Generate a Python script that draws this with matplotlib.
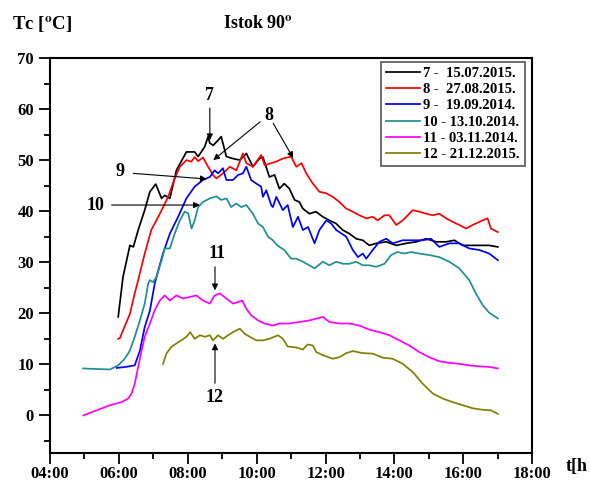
import matplotlib
matplotlib.use("Agg")
import matplotlib.pyplot as plt
from matplotlib.ticker import MultipleLocator, FuncFormatter

plt.rcParams["font.family"] = ["Liberation Serif", "DejaVu Serif"]
plt.rcParams["font.weight"] = "bold"
plt.rcParams["mathtext.fontset"] = "stix"

# time in hours, temperature in degC
t7 = [5.98, 6.12, 6.32, 6.42, 6.56, 6.75, 6.9, 7.07, 7.24, 7.33, 7.48, 7.67, 7.96, 8.2, 8.3,
      8.49, 8.59, 8.64, 8.74, 8.88, 8.97, 9.12, 9.31, 9.51, 9.7, 9.89, 10.08, 10.18, 10.37, 10.52,
      10.66, 10.8, 10.95, 11.1, 11.24, 11.34, 11.53, 11.72, 11.92, 12.11, 12.3, 12.5, 12.69, 12.89,
      13.08, 13.27, 13.47, 13.76, 14.05, 14.34, 14.63, 14.92, 15.21, 15.5, 15.74, 15.98, 16.27,
      16.56, 16.75, 17.0]
T7 = [19.3, 27.1, 33.3, 33.0, 36.3, 40.2, 43.8, 45.3, 42.5, 43.1, 42.5, 48.0, 51.6, 51.6, 50.7,
      52.6, 54.6, 53.3, 52.9, 53.9, 54.6, 50.7, 50.3, 50.0, 51.3, 48.7, 50.3, 50.6, 46.7, 47.1,
      44.4, 45.4, 44.4, 42.2, 41.8, 40.5, 39.5, 39.9, 38.9, 38.2, 37.6, 36.3, 35.6, 34.6,
      34.3, 33.3, 33.7, 34.0, 33.3, 33.7, 34.0, 34.6, 34.0, 34.0, 34.3, 33.3, 33.3,
      33.3, 33.3, 33.0]

t8 = [5.98, 6.04, 6.08, 6.32, 6.46, 6.56, 6.75, 6.94, 7.19, 7.43, 7.62, 7.77, 7.96, 8.1, 8.2,
      8.3, 8.44, 8.59, 8.73, 8.83, 9.02, 9.22, 9.41, 9.6, 9.7, 9.89, 10.13, 10.23, 10.42, 10.56,
      10.66, 10.76, 11.0, 11.15, 11.3, 11.44, 11.63, 11.82, 12.02, 12.21, 12.4, 12.6, 12.79, 12.98,
      13.18, 13.37, 13.51, 13.71, 13.85, 14.05, 14.24, 14.53, 14.72, 14.92, 15.11, 15.3, 15.5,
      15.69, 15.88, 16.08, 16.27, 16.46, 16.7, 16.8, 17.0]
T8 = [15.0, 15.2, 16.0, 19.9, 23.9, 26.5, 31.7, 36.3, 39.5, 42.8, 46.4, 48.7, 50.0, 49.7, 50.6,
      49.8, 50.5, 48.7, 47.1, 46.4, 47.4, 48.7, 48.0, 51.3, 49.4, 48.7, 51.0, 49.0, 49.4, 49.7,
      50.0, 50.3, 50.7, 48.7, 49.4, 47.4, 45.4, 43.8, 43.5, 42.8, 41.8, 40.5, 39.9, 39.2,
      38.6, 38.9, 38.2, 39.2, 39.2, 37.3, 38.2, 40.2, 39.9, 39.5, 39.2, 39.5, 38.6,
      37.9, 37.3, 36.6, 37.3, 37.9, 38.6, 36.6, 35.9]

t9 = [5.94, 6.2, 6.46, 6.61, 6.75, 6.9, 7.04, 7.09, 7.28, 7.48, 7.72, 7.96, 8.2, 8.44, 8.64,
      8.78, 8.88, 9.02, 9.12, 9.31, 9.46, 9.6, 9.7, 9.84, 9.99, 10.13, 10.18, 10.28, 10.42, 10.47,
      10.57, 10.76, 10.9, 11.05, 11.2, 11.34, 11.49, 11.68, 11.82, 12.02, 12.16, 12.31, 12.6, 12.79,
      12.94, 13.08, 13.18, 13.37, 13.56, 13.76, 13.95, 14.24, 14.53, 14.82, 15.06, 15.3, 15.59,
      15.88, 16.17, 16.46, 16.75, 17.0]
T9 = [9.3, 9.5, 9.8, 12.7, 17.3, 20.5, 25.8, 27.1, 31.7, 35.6, 38.9, 42.5, 44.8, 46.1, 46.7,
      48.0, 47.4, 48.4, 46.1, 46.1, 47.1, 47.4, 48.7, 46.1, 45.4, 44.8, 42.8, 44.1, 41.2, 40.8,
      42.8, 40.2, 41.2, 36.9, 38.9, 36.3, 36.9, 33.7, 36.3, 38.2, 37.6, 36.3, 35.0, 32.4,
      31.0, 31.7, 30.7, 32.4, 34.0, 34.6, 33.7, 34.3, 34.3, 34.3, 34.6, 33.0, 33.7,
      33.7, 32.7, 32.4, 31.7, 30.4]

t10 = [4.96, 5.3, 5.74, 5.98, 6.17, 6.32, 6.46, 6.61, 6.75, 6.85, 6.9, 6.99, 7.09, 7.24, 7.33,
       7.48, 7.62, 7.77, 7.91, 8.01, 8.11, 8.2, 8.3, 8.44, 8.64, 8.83, 8.97, 9.12, 9.26, 9.41,
       9.55, 9.7, 9.89, 10.04, 10.18, 10.33, 10.47, 10.6, 10.8, 11.0, 11.15, 11.34, 11.53, 11.68,
       11.92, 12.11, 12.31, 12.5, 12.69, 12.89, 13.08, 13.27, 13.47, 13.71, 13.9, 14.09, 14.29,
       14.48, 14.72, 15.01, 15.3, 15.59, 15.88, 16.17, 16.36, 16.56, 16.75, 17.0]
T10 = [9.2, 9.1, 9.0, 9.8, 11.1, 12.7, 15.4, 18.6, 21.9, 25.8, 26.5, 26.1, 27.1, 30.4, 32.7,
       32.7, 35.6, 38.2, 39.9, 39.6, 36.6, 38.2, 40.8, 41.8, 42.5, 42.9, 42.2, 42.5, 40.8, 41.5,
       40.8, 41.2, 39.5, 37.6, 36.9, 35.0, 34.3, 33.3, 32.4, 30.7, 30.7, 30.1, 29.4, 28.8,
       30.1, 29.4, 30.1, 29.7, 29.7, 30.1, 29.4, 29.4, 29.1, 29.7, 31.4, 32.0, 31.7,
       32.0, 31.7, 31.4, 31.0, 30.1, 28.8, 26.5, 23.9, 21.6, 20.1, 19.0]

t11 = [4.97, 5.35, 5.74, 6.07, 6.27, 6.37, 6.46, 6.56, 6.66, 6.75, 6.9, 7.04, 7.19, 7.33, 7.48,
       7.67, 7.86, 8.06, 8.25, 8.44, 8.64, 8.78, 8.93, 9.12, 9.31, 9.46, 9.58, 9.7, 9.84, 10.04,
       10.23, 10.47, 10.66, 10.95, 11.24, 11.53, 11.92, 12.11, 12.4, 12.69, 12.98, 13.27, 13.56,
       13.85, 14.14, 14.43, 14.72, 15.01, 15.3, 15.59, 15.88, 16.17, 16.46, 16.75, 17.0]
T11 = [0.0, 1.0, 2.0, 2.6, 3.3, 4.3, 6.2, 9.5, 12.7, 15.4, 18.0, 20.6, 22.5, 23.5, 22.5,
       23.5, 22.9, 23.2, 23.5, 22.5, 21.9, 23.5, 23.9, 22.9, 21.9, 22.2, 22.5, 20.9, 19.6, 18.6,
       18.0, 17.6, 18.0, 18.0, 18.3, 18.6, 19.3, 18.3, 18.0, 18.0, 17.6, 16.8, 16.3,
       15.7, 14.7, 13.7, 12.4, 11.4, 10.6, 10.3, 10.1, 9.8, 9.6, 9.5, 9.2]

t12 = [7.28, 7.38, 7.52, 7.67, 7.81, 7.96, 8.07, 8.2, 8.35, 8.5, 8.64, 8.73, 8.88, 9.02, 9.17,
       9.31, 9.51, 9.65, 9.8, 9.99, 10.18, 10.37, 10.62, 10.76, 10.9, 11.15, 11.34, 11.48, 11.63,
       11.73, 11.92, 12.21, 12.4, 12.6, 12.79, 13.08, 13.37, 13.66, 13.95, 14.24, 14.53, 14.82,
       15.11, 15.4, 15.69, 15.98, 16.27, 16.56, 16.8, 17.0]
T12 = [10.1, 12.1, 13.4, 14.1, 14.7, 15.4, 16.3, 15.0, 15.7, 15.4, 15.7, 14.7, 15.7, 15.0, 15.7,
       16.3, 17.0, 16.0, 15.4, 14.7, 14.7, 15.0, 15.7, 15.0, 13.5, 13.3, 12.9, 13.9, 13.7,
       12.4, 11.8, 11.1, 11.4, 12.2, 12.6, 12.2, 12.1, 11.3, 11.1, 10.1, 8.5, 6.2,
       4.3, 3.3, 2.6, 2.0, 1.4, 1.1, 1.0, 0.3]

labels = ["7 -  15.07.2015.", "8 -  27.08.2015.", "9 -  19.09.2014.",
          "10 - 13.10.2014.", "11 - 03.11.2014.", "12 - 21.12.2015."]
colors = ["black", "#ff0000", "#0000ff", "#1f8f8f", "#ff00ff", "#808000"]

fig = plt.figure(figsize=(5.9, 4.82), dpi=100)
ax = fig.add_axes([0.0847, 0.0608, 0.8175, 0.8189])

series = [(t7, T7), (t8, T8), (t9, T9), (t10, T10), (t11, T11), (t12, T12)]
for (tt, TT), c, lab in zip(series, colors, labels):
    ax.plot(tt, TT, color=c, lw=1.25, label=lab)

ax.set_xlim(4, 18)
ax.set_ylim(-7.3, 70)
ax.xaxis.set_major_locator(MultipleLocator(2))
ax.xaxis.set_minor_locator(MultipleLocator(1))
ax.yaxis.set_major_locator(MultipleLocator(10))
ax.yaxis.set_minor_locator(MultipleLocator(5))
ax.xaxis.set_major_formatter(FuncFormatter(lambda v, p: f"{int(v):02d}:00"))
ax.yaxis.set_major_formatter(FuncFormatter(lambda v, p: f"{int(v)}" if v >= 0 else ""))
ax.tick_params(which="major", direction="out", length=8, width=1.3, labelsize=12)
ax.tick_params(axis="x", which="major", pad=1.5)
ax.tick_params(which="minor", direction="out", length=4, width=1.3)
for s in ax.spines.values():
    s.set_linewidth(1.5)

leg = ax.legend(loc="upper right", bbox_to_anchor=(0.985, 0.99), borderaxespad=0,
                fontsize=10.5, handlelength=2.3, handletextpad=0.25, labelspacing=0.2,
                borderpad=0.35, fancybox=False, framealpha=1, edgecolor="#555555")
leg.get_frame().set_linewidth(1.2)

# annotations
txt = dict(fontsize=13, fontweight="bold", ha="center", va="center")
arr = dict(arrowstyle="-|>", color="black", lw=0.8, mutation_scale=9, shrinkA=0, shrinkB=0)
ax.text(8.64, 62.6, "7", **txt)
ax.annotate("", xy=(8.64, 53.9), xytext=(8.64, 60.2), arrowprops=arr)
ax.text(10.34, 58.8, "8", **txt)
ax.annotate("", xy=(8.74, 50.0), xytext=(10.1, 57.5), arrowprops=arr)
ax.annotate("", xy=(11.06, 50.4), xytext=(10.48, 57.2), arrowprops=arr)
ax.text(6.03, 47.7, "9", **txt)
ax.annotate("", xy=(8.55, 46.3), xytext=(6.42, 47.4), arrowprops=arr)
ax.text(5.31, 41.2, "10", **txt)
ax.annotate("", xy=(8.35, 41.2), xytext=(5.79, 41.2), arrowprops=arr)
ax.text(8.84, 31.7, "11", **txt)
ax.annotate("", xy=(8.79, 24.5), xytext=(8.79, 29.1), arrowprops=arr)
ax.text(8.79, 3.6, "12", **txt)
ax.annotate("", xy=(8.79, 14.1), xytext=(8.79, 6.3), arrowprops=arr)

fig.text(12 / 590, 1 - 25 / 482, "Tc [$^{\\mathrm{o}}$C]", fontsize=13.5, fontweight="bold",
         va="center", ha="left")
fig.text(258 / 590, 1 - 24 / 482, "Istok 90$^{\\mathrm{o}}$", fontsize=13, fontweight="bold",
         va="center", ha="center")
fig.text(588 / 590, 1 - 467 / 482, "t[h", fontsize=13, fontweight="bold", va="center", ha="right")

fig.savefig("out.png", dpi=100)
